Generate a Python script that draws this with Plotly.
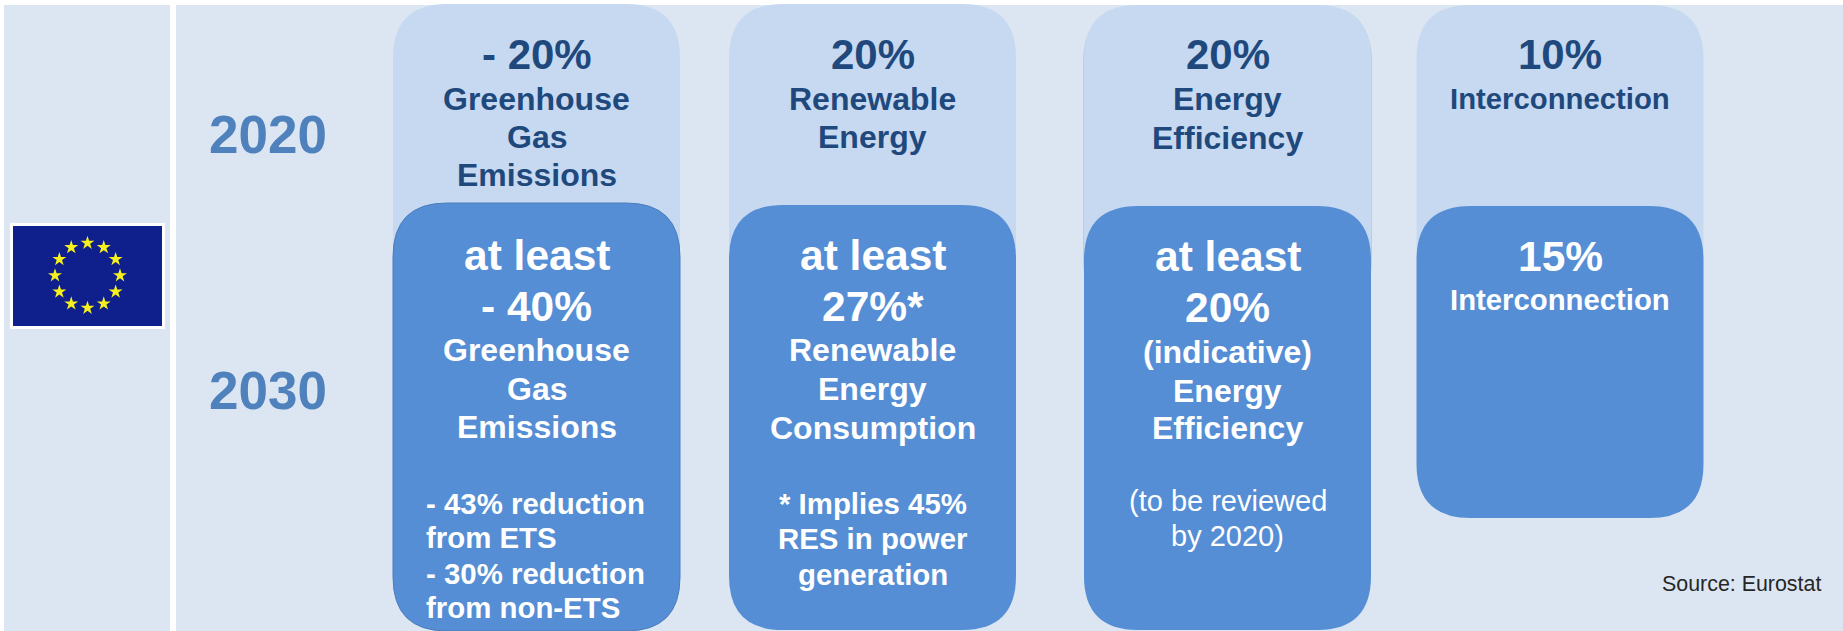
import math
import plotly.graph_objects as go

# ---- content ----
years = ["2020", "2030"]
targets_2020 = ["- 20%", "20%", "20%", "10%"]
names_2020 = [["Greenhouse", "Gas", "Emissions"], ["Renewable", "Energy"], ["Energy", "Efficiency"], ["Interconnection"]]
heads_2030 = [["at least", "- 40%"], ["at least", "27%*"], ["at least", "20%"], ["15%"]]
names_2030 = [["Greenhouse", "Gas", "Emissions"], ["Renewable", "Energy", "Consumption"],
              ["(indicative)", "Energy", "Efficiency"], ["Interconnection"]]
notes_2030 = [["- 43% reduction", "from ETS", "- 30% reduction", "from non-ETS"],
              ["* Implies 45%", "RES in power", "generation"],
              ["(to be reviewed", "by 2020)"], []]
source = "Source: Eurostat"
n_stars = 12

# ---- layout (pixels) ----
W, H = 1843, 631
FONT = "Liberation Sans, Arial, sans-serif"
BG, LIGHT, DARK = "#dce6f2", "#c6d9f1", "#558ed5"
NAVY, MID = "#1f497d", "#4f81bd"
col_x0 = [393, 729, 1084, 1416.5]
col_x1 = [680, 1016, 1371, 1703.5]
light_top = [4, 4, 5, 5]
light_bot = [300, 300, 311, 300]
dark_top = [203, 205, 206, 206]
dark_bot = [631, 630, 630, 518]
RADIUS = 54

y_2020_head = [54, 54, 54, 54]
y_2020_names = [[99, 137, 175], [99, 137], [99, 138], [98]]
y_2030_head = [[255, 306], [255, 306], [256, 307], [256]]
y_2030_names = [[350, 389, 427], [350, 389, 428], [352, 391, 428], [299]]
y_2030_notes = [[503, 537, 573, 607], [503, 538, 574], [501, 536], []]
year_y = [134, 390]


def rrect(x0, y0, x1, y1, r):
    return (f"M{x0+r},{y0} L{x1-r},{y0} Q{x1},{y0} {x1},{y0+r} L{x1},{y1-r} Q{x1},{y1} {x1-r},{y1} "
            f"L{x0+r},{y1} Q{x0},{y1} {x0},{y1-r} L{x0},{y0+r} Q{x0},{y0} {x0+r},{y0} Z")


shapes = []


def rect(x0, y0, x1, y1, color):
    shapes.append(dict(type="rect", xref="x", yref="y", x0=x0, y0=y0, x1=x1, y1=y1,
                       fillcolor=color, line_width=0, layer="below"))


rect(4, 5, 170, H, BG)
rect(176, 5, W, H, BG)
rect(10, 223, 165, 329, "#ffffff")
rect(13, 226, 162, 326, "#0f1f8c")

for i in range(4):
    x0, x1 = col_x0[i], col_x1[i]
    if i == 2:  # faint drop shadow behind the third light box
        shapes.append(dict(type="path", path=rrect(x0 - 1, light_top[i] + 3, x1 + 1, light_bot[i] + 2, RADIUS),
                           fillcolor="rgba(120,135,155,0.28)", line_width=0, layer="below"))
    shapes.append(dict(type="path", path=rrect(x0, light_top[i], x1, light_bot[i], RADIUS),
                       fillcolor=LIGHT, line_width=0, layer="below"))
    shapes.append(dict(type="path", path=rrect(x0, dark_top[i], x1, dark_bot[i], RADIUS),
                       fillcolor=DARK, layer="below",
                       line=dict(color="#4a7ebb", width=1) if i == 0 else dict(width=0)))

annotations = []


def label(x, y, text, size, color, bold=True, anchor="center"):
    annotations.append(dict(x=x, y=y, xref="x", yref="y", text=f"<b>{text}</b>" if bold else text,
                            showarrow=False, xanchor=anchor, yanchor="middle",
                            font=dict(family=FONT, size=size, color=color)))


for t, y in zip(years, year_y):
    label(268, y, t, 53, MID)

for i in range(4):
    cx = (col_x0[i] + col_x1[i]) / 2
    label(cx, y_2020_head[i], targets_2020[i], 42, NAVY)
    name_size = 29.3 if i == 3 else 32
    for t, y in zip(names_2020[i], y_2020_names[i]):
        label(cx, y, t, name_size, NAVY)
    for t, y in zip(heads_2030[i], y_2030_head[i]):
        label(cx, y, t, 42.5, "#ffffff")
    for t, y in zip(names_2030[i], y_2030_names[i]):
        label(cx, y, t, name_size, "#ffffff")
    for t, y in zip(notes_2030[i], y_2030_notes[i]):
        if i == 0:
            label(423.5, y, t, 29.4, "#ffffff", anchor="left")
        elif i == 2:
            label(cx, y, t, 29, "#ffffff", bold=False)
        else:
            label(cx, y, t, 29.4, "#ffffff")

label(1823, 584, source, 21.4, "#262626", bold=False, anchor="right")

angles = [2 * math.pi * k / n_stars for k in range(n_stars)]
stars = go.Scatter(x=[87.5 + 32.5 * math.cos(a) for a in angles],
                   y=[275.5 + 32.5 * math.sin(a) for a in angles],
                   mode="markers", hoverinfo="skip", showlegend=False,
                   marker=dict(symbol="star", size=10.5, color="#f5f01e", line_width=0))

fig = go.Figure(stars)
fig.update_layout(width=W, height=H, margin=dict(l=0, r=0, t=0, b=0), autosize=False,
                  paper_bgcolor="#ffffff", plot_bgcolor="#ffffff", showlegend=False,
                  shapes=shapes, annotations=annotations,
                  xaxis=dict(range=[0, W], visible=False, fixedrange=True),
                  yaxis=dict(range=[H, 0], visible=False, fixedrange=True))
fig.write_html("out.html", config={"displayModeBar": False},
               post_script="document.body.style.margin='0';document.documentElement.style.overflow='hidden';")
